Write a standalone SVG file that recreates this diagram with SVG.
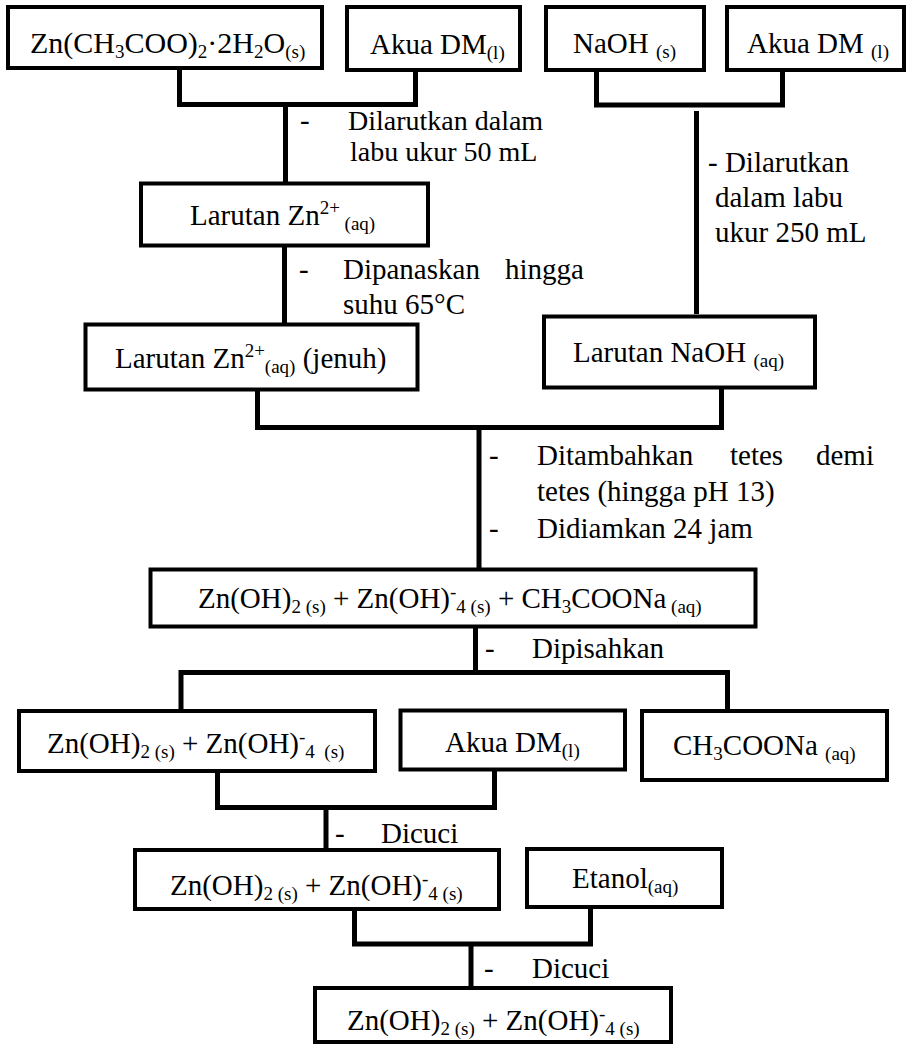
<svg xmlns="http://www.w3.org/2000/svg" width="907" height="1045" viewBox="0 0 907 1045">
<style>
.bg{fill:#fff}
.box{fill:#fff;stroke:#000;stroke-width:4}
.c{fill:none;stroke:#000;stroke-width:5;stroke-linejoin:miter;stroke-linecap:butt}
text{font-family:"Liberation Serif","Times New Roman",serif;font-size:29px;fill:#000}
.big{font-size:30px}
.sm{font-size:28px}
.s{font-size:19px}
</style>
<rect class="bg" x="0" y="0" width="907" height="1045"/>
<g id="connectors">
<path class="c" d="M179.5 68 V104.5 H415.5 V70"/>
<path class="c" d="M285.5 104.5 V183"/>
<path class="c" d="M596.5 70 V105 H782.5 V70"/>
<path class="c" d="M696.5 111 V314"/>
<path class="c" d="M284.5 245 V324"/>
<path class="c" d="M257.5 390 V427.5 H721.5 V388"/>
<path class="c" d="M479 427.5 V569"/>
<path class="c" d="M475.5 626 V672.5"/>
<path class="c" d="M181 711 V672.5 H727.5 V711"/>
<path class="c" d="M217.5 771 V807.5 H494.5 V769"/>
<path class="c" d="M326 807.5 V850"/>
<path class="c" d="M354.5 909 V944 H590.5 V907"/>
<path class="c" d="M471 944 V988"/>
</g>
<g id="labels">
<text x="300" y="130">-</text>
<text class="sm" x="348" y="130">Dilarutkan dalam</text>
<text class="sm" x="350" y="161">labu ukur 50 mL</text>
<text x="708" y="172">- Dilarutkan</text>
<text x="715" y="207">dalam labu</text>
<text x="715" y="242">ukur 250 mL</text>
<text x="299" y="279">-</text>
<text x="343" y="279">Dipanaskan</text>
<text x="505" y="279">hingga</text>
<text x="343" y="314">suhu 65°C</text>
<text x="489" y="465">-</text>
<text x="537" y="465">Ditambahkan</text>
<text x="730" y="465">tetes</text>
<text x="816" y="465">demi</text>
<text x="537" y="501">tetes (hingga pH 13)</text>
<text x="489" y="538">-</text>
<text x="537" y="538">Didiamkan 24 jam</text>
<text x="485" y="658">-</text>
<text x="532" y="658">Dipisahkan</text>
<text x="335" y="843">-</text>
<text x="381" y="843">Dicuci</text>
<text x="484" y="978">-</text>
<text x="532" y="978">Dicuci</text>
</g>
<g id="n1">
<rect class="box" x="8" y="7" width="314" height="61"/>
<text class="big" x="30" y="53" xml:space="preserve">Zn(CH<tspan class="s" dy="5">3</tspan><tspan dy="-5">COO)</tspan><tspan class="s" dy="5">2</tspan><tspan dy="-5">·2H</tspan><tspan class="s" dy="5">2</tspan><tspan dy="-5">O</tspan><tspan class="s" dy="5">(s)</tspan></text>
</g>
<g id="n2">
<rect class="box" x="347" y="7" width="173" height="63"/>
<text x="370" y="54" xml:space="preserve">Akua DM<tspan class="s" dy="5">(l)</tspan></text>
</g>
<g id="n3">
<rect class="box" x="546" y="7" width="158" height="63"/>
<text x="573" y="53" xml:space="preserve">NaOH <tspan class="s" dy="5">(s)</tspan></text>
</g>
<g id="n4">
<rect class="box" x="727" y="7" width="177" height="63"/>
<text x="747" y="53" xml:space="preserve">Akua DM <tspan class="s" dy="5">(l)</tspan></text>
</g>
<g id="n5">
<rect class="box" x="141" y="183.5" width="287" height="62"/>
<text x="190" y="225" xml:space="preserve">Larutan Zn<tspan class="s" dy="-11">2+</tspan><tspan class="s" dy="16"> (aq)</tspan></text>
</g>
<g id="n6">
<rect class="box" x="85.5" y="324.5" width="332" height="65"/>
<text x="115" y="368" xml:space="preserve">Larutan Zn<tspan class="s" dy="-11">2+</tspan><tspan class="s" dy="16">(aq)</tspan><tspan dy="-5"> (jenuh)</tspan></text>
</g>
<g id="n7">
<rect class="box" x="544" y="316.5" width="271" height="71"/>
<text x="573" y="362" xml:space="preserve">Larutan NaOH <tspan class="s" dy="5">(aq)</tspan></text>
</g>
<g id="n8">
<rect class="box" x="150.5" y="569.5" width="605" height="57"/>
<text x="198" y="608" xml:space="preserve">Zn(OH)<tspan class="s" dy="5">2 (s)</tspan><tspan dy="-5"> + Zn(OH)</tspan><tspan class="s" dy="-10">-</tspan><tspan class="s" dy="15">4 (s)</tspan><tspan dy="-5"> + CH</tspan><tspan class="s" dy="5">3</tspan><tspan dy="-5">COONa</tspan><tspan class="s" dy="5"> (aq)</tspan></text>
</g>
<g id="n9">
<rect class="box" x="19" y="711" width="356" height="60"/>
<text x="47" y="753" xml:space="preserve">Zn(OH)<tspan class="s" dy="5">2 (s)</tspan><tspan dy="-5"> + Zn(OH)</tspan><tspan class="s" dy="-10">-</tspan><tspan class="s" dy="15">4  (s)</tspan></text>
</g>
<g id="n10">
<rect class="box" x="400.5" y="710.5" width="224.5" height="59"/>
<text x="445" y="752" xml:space="preserve">Akua DM<tspan class="s" dy="5">(l)</tspan></text>
</g>
<g id="n11">
<rect class="box" x="642" y="711" width="245" height="69"/>
<text x="673" y="755" xml:space="preserve">CH<tspan class="s" dy="5">3</tspan><tspan dy="-5">COONa </tspan><tspan class="s" dy="5">(aq)</tspan></text>
</g>
<g id="n12">
<rect class="box" x="135" y="850" width="364" height="59"/>
<text x="170" y="895" xml:space="preserve">Zn(OH)<tspan class="s" dy="5">2 (s)</tspan><tspan dy="-5"> + Zn(OH)</tspan><tspan class="s" dy="-10">-</tspan><tspan class="s" dy="15">4 (s)</tspan></text>
</g>
<g id="n13">
<rect class="box" x="527" y="849" width="195" height="58"/>
<text x="572" y="888" xml:space="preserve">Etanol<tspan class="s" dy="5">(aq)</tspan></text>
</g>
<g id="n14">
<rect class="box" x="315" y="988" width="356" height="54"/>
<text x="347" y="1030" xml:space="preserve">Zn(OH)<tspan class="s" dy="5">2 (s)</tspan><tspan dy="-5"> + Zn(OH)</tspan><tspan class="s" dy="-10">-</tspan><tspan class="s" dy="15">4 (s)</tspan></text>
</g>
</svg>
